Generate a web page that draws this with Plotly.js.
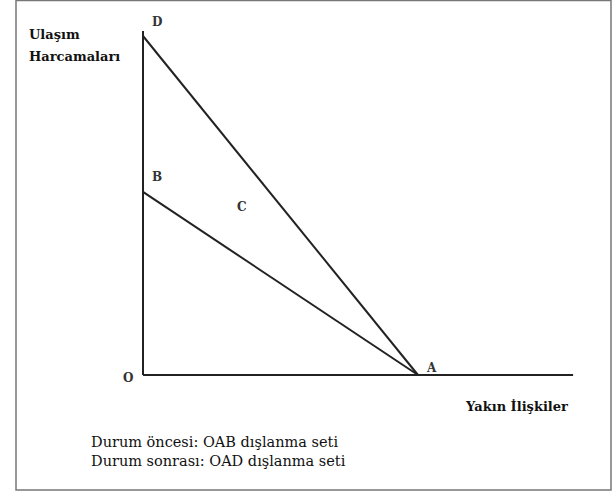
<!DOCTYPE html>
<html><head><meta charset="utf-8">
<script src="https://cdn.plot.ly/plotly-3.0.1.min.js"></script>
<style>body{margin:0;background:#fff}#c{width:612px;height:493px}</style>
</head><body><div id="c"></div>
<script>
// Points of the diagram (units on each axis)
const pointNames = ["O", "A", "B", "D"];
const pointX = [0, 10, 0, 0];
const pointY = [0, 0, 5.4, 10];
const axisXEnd = 15.64;
const axisYEnd = 10.15;
const regionLabel = "C";
const regionX = 3.6;
const regionY = 4.95;
const yTitleLines = ["Ulaşım", "Harcamaları"];
const xTitle = "Yakın İlişkiler";
const noteLines = ["Durum öncesi: OAB dışlanma seti", "Durum sonrası: OAD dışlanma seti"];

const P = {}; pointNames.forEach((n,i)=>P[n]={x:pointX[i],y:pointY[i]});
const lineStyle = {color:"#222", width:2};
const traces = [
  {x:[P.O.x, P.O.x], y:[P.O.y, axisYEnd], mode:"lines", line:lineStyle, hoverinfo:"skip"},
  {x:[P.O.x, axisXEnd], y:[P.O.y, P.O.y], mode:"lines", line:lineStyle, hoverinfo:"skip"},
  {x:[P.D.x, P.A.x], y:[P.D.y, P.A.y], mode:"lines", line:lineStyle, hoverinfo:"skip"},
  {x:[P.B.x, P.A.x], y:[P.B.y, P.A.y], mode:"lines", line:lineStyle, hoverinfo:"skip"}
];
const serif = "DejaVu Serif";
const lblFont = {family:serif, size:12, color:"#333"};
const offs = {O:[-0.55,-0.1], A:[0.5,0.22], B:[0.5,0.45], D:[0.5,0.4]};
const ann = pointNames.map(n=>({x:P[n].x+offs[n][0], y:P[n].y+offs[n][1], xref:"x", yref:"y",
  xanchor:"center", yanchor:"middle", text:"<b>"+n+"</b>", showarrow:false, font:lblFont}));
ann.push({x:regionX, y:regionY, xref:"x", yref:"y", xanchor:"center", yanchor:"middle",
  text:"<b>"+regionLabel+"</b>", showarrow:false, font:lblFont});
const px = v=>v/612, py = v=>1-v/493;
const titleFont = {family:serif, size:13, color:"#111"};
ann.push({x:px(27), y:py(34), xref:"paper", yref:"paper", text:"<b>"+yTitleLines[0]+"</b>", showarrow:false,
  xanchor:"left", yanchor:"middle", font:titleFont});
ann.push({x:px(27), y:py(57), xref:"paper", yref:"paper", text:"<b>"+yTitleLines[1]+"</b>", showarrow:false,
  xanchor:"left", yanchor:"middle", font:titleFont});
ann.push({x:px(516), y:py(406), xref:"paper", yref:"paper", xanchor:"center", yanchor:"middle",
  text:"<b>"+xTitle+"</b>", showarrow:false, font:titleFont});
ann.push({x:px(89), y:py(451), xref:"paper", yref:"paper", xanchor:"left", yanchor:"middle", align:"left",
  text:noteLines.join("<br>"), showarrow:false, font:{family:serif, size:14.5, color:"#111"}});

const kx = 27.5, ky = 33.9;
const layout = {
  width:612, height:493, margin:{l:0,r:0,t:0,b:0},
  font:{family:serif},
  paper_bgcolor:"#fff", plot_bgcolor:"#fff", showlegend:false,
  xaxis:{range:[-143/kx, (612-143)/kx], visible:false, fixedrange:true},
  yaxis:{range:[-(493-375)/ky, 375/ky], visible:false, fixedrange:true},
  annotations:ann,
  shapes:[{type:"rect", xref:"paper", yref:"paper", x0:px(16), x1:px(611), y0:py(490), y1:py(0.5),
    line:{color:"#777", width:1.5}}]
};
Plotly.newPlot("c", traces, layout, {staticPlot:true});
</script></body></html>
